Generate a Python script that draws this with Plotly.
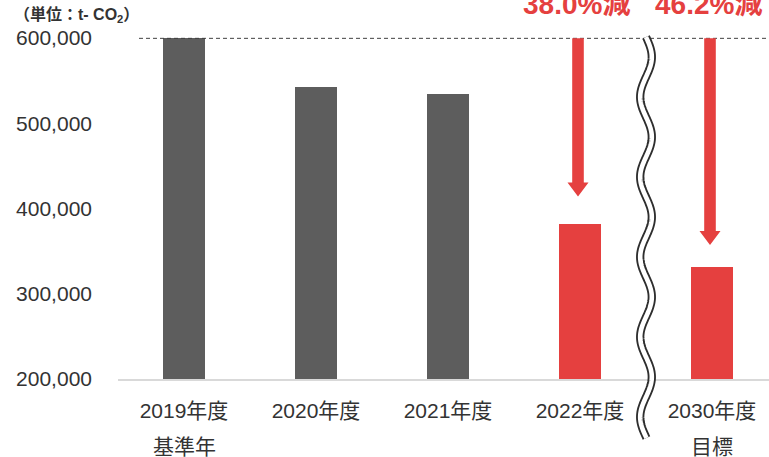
import numpy as np
import plotly.graph_objects as go

# CO2 emissions by fiscal year (t-CO2)
years = ["2019年度", "2020年度", "2021年度", "2022年度", "2030年度"]
year_notes = ["基準年", "", "", "", "目標"]
emissions = [599600, 542400, 534100, 382400, 331400]
bar_colors = ["#5d5d5d", "#5d5d5d", "#5d5d5d", "#e5403f", "#e5403f"]
reduction_labels = ["38.0%減", "46.2%減"]
reduction_index = [3, 4]

RED = "#e5403f"
TEXT = "#333333"
FONT = "Liberation Sans, Arial, Noto Sans CJK JP, sans-serif"

# page geometry (pixels)
WIDTH, HEIGHT = 769, 457
ML, MR, MT, MB = 118, 0, 0, 78
PW, PH = WIDTH - ML - MR, HEIGHT - MT - MB

Y0 = 200000
UNITS_PER_PX = 400000 / 341
Y1 = Y0 + PH * UNITS_PER_PX
X_UNITS_PER_PX = 1 / 132
X0 = -0.5
X1 = X0 + PW * X_UNITS_PER_PX


def paper_x(px):
    return (px - ML) / PW


def paper_y(py):
    return (MT + PH - py) / PH


x = list(range(len(years)))

fig = go.Figure()
fig.add_trace(go.Bar(
    x=x, y=emissions, width=0.32,
    marker=dict(color=bar_colors, line=dict(width=0)),
    hoverinfo="skip",
))

shapes = []
annotations = []

# dashed reference line at the base-year level
base = emissions[0]
shapes.append(dict(
    type="line", xref="paper", yref="y",
    x0=paper_x(139), x1=1, y0=base, y1=base,
    line=dict(color="#404040", width=1, dash="4px,3px"),
))

# downward arrows from the base-year level to each reduced bar
shaft_half = 5.8 * X_UNITS_PER_PX
head_half = 10.5 * X_UNITS_PER_PX
head_len = 14 * UNITS_PER_PX
gaps_px = [27, 22]
for idx, gap, label in zip(reduction_index, gaps_px, reduction_labels):
    xc = idx - 2 * X_UNITS_PER_PX
    tip = emissions[idx] + gap * UNITS_PER_PX
    neck = tip + head_len
    pts = [
        (xc - shaft_half, base), (xc + shaft_half, base),
        (xc + shaft_half, neck), (xc + head_half, neck),
        (xc, tip), (xc - head_half, neck), (xc - shaft_half, neck),
    ]
    path = "M " + " L ".join(f"{px},{py}" for px, py in pts) + " Z"
    shapes.append(dict(type="path", xref="x", yref="y", path=path,
                       fillcolor=RED, line=dict(width=0)))
    annotations.append(dict(
        x=idx, xref="x", xshift=-4, y=paper_y(5), yref="paper",
        text=f"<b>{label}</b>", showarrow=False,
        xanchor="center", yanchor="middle",
        font=dict(family=FONT, size=28, color=RED),
    ))

# wavy double line marking the break between 2022 and 2030
ys = np.linspace(37, 438, 300)
xs = 646 + 5.8 * np.sin(np.pi * (ys - 37) / 40)
wave = "M " + " L ".join(f"{paper_x(a):.5f},{paper_y(b):.5f}" for a, b in zip(xs, ys))
shapes.append(dict(type="path", xref="paper", yref="paper", path=wave,
                   line=dict(color="#2e2e2e", width=8.3)))
shapes.append(dict(type="path", xref="paper", yref="paper", path=wave,
                   line=dict(color="white", width=4.6)))

# second line of category labels
for i, note in enumerate(year_notes):
    if note:
        annotations.append(dict(
            x=i, xref="x", y=paper_y(446), yref="paper",
            text=note, showarrow=False, xanchor="center", yanchor="middle",
            font=dict(family=FONT, size=21, color=TEXT),
        ))

# unit label
annotations.append(dict(
    x=paper_x(12), xref="paper", y=paper_y(15), yref="paper",
    text="<b>（単位：t- CO<sub>2</sub>）</b>", showarrow=False,
    xanchor="left", yanchor="middle",
    font=dict(family=FONT, size=16, color=TEXT),
))

fig.update_layout(
    width=WIDTH, height=HEIGHT,
    margin=dict(l=ML, r=MR, t=MT, b=MB, pad=0),
    paper_bgcolor="white", plot_bgcolor="white",
    showlegend=False, bargap=0,
    shapes=shapes, annotations=annotations,
    font=dict(family=FONT, color=TEXT),
)
fig.update_xaxes(
    range=[X0, X1], tickmode="array", tickvals=x, ticktext=years,
    showgrid=False, zeroline=False, showline=True,
    linecolor="#d9d9d9", linewidth=1.5,
    ticks="", ticklabelstandoff=12,
    tickfont=dict(family=FONT, size=21, color=TEXT),
)
fig.update_yaxes(
    range=[Y0, Y1], tickmode="array",
    tickvals=[200000, 300000, 400000, 500000, 600000],
    ticktext=["200,000", "300,000", "400,000", "500,000", "600,000"],
    showgrid=False, zeroline=False, showline=False,
    ticks="", ticklabelstandoff=25,
    tickfont=dict(family=FONT, size=21, color=TEXT),
)

fig.write_html("out.html")
